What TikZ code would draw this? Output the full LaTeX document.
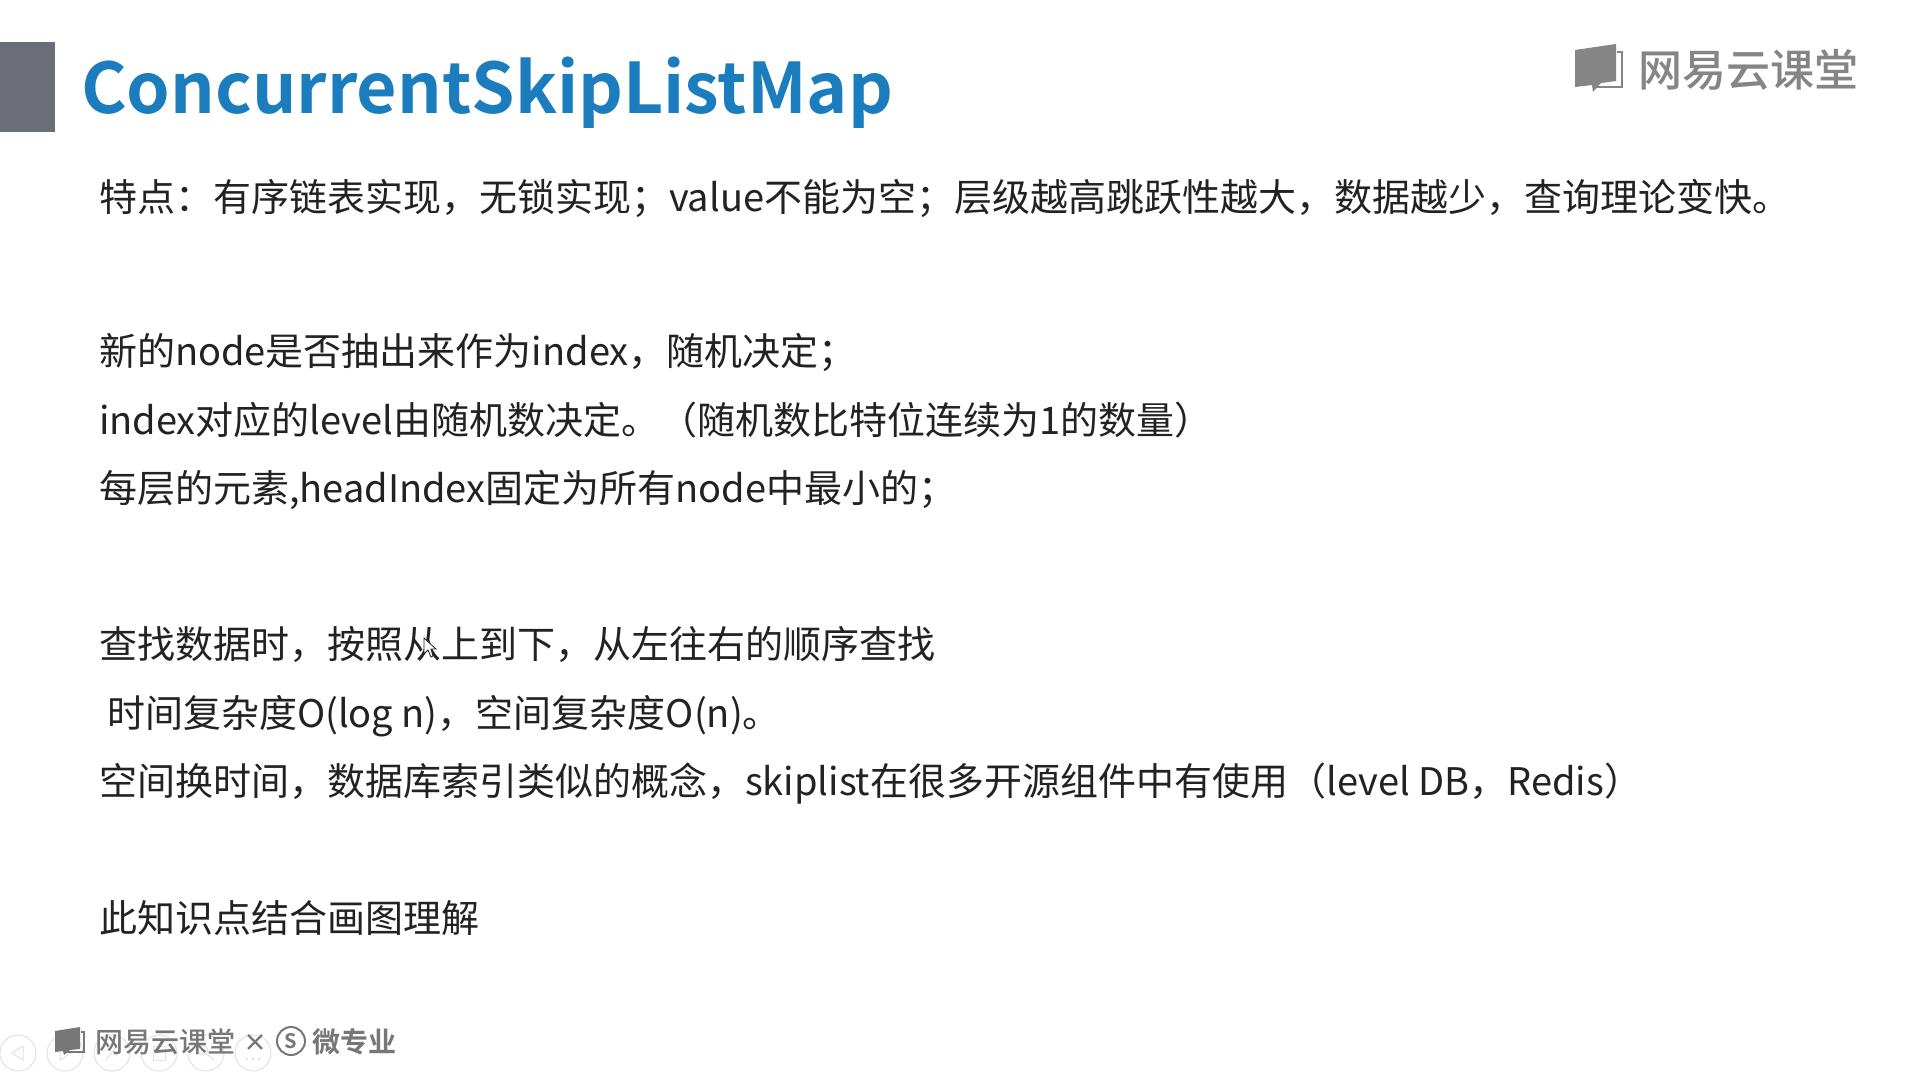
\documentclass[tikz,border=0pt]{standalone}
\usepackage{fontspec}
\setmainfont{Noto Sans CJK SC}
\newfontfamily\cjkmed{Noto Sans CJK SC Medium}
\newfontfamily\cjkbold{Noto Sans CJK SC Bold}
\definecolor{titleblue}{HTML}{1B7DBE}
\definecolor{barGray}{HTML}{6B6E76}
\definecolor{bodytext}{HTML}{222222}
\definecolor{logogray}{HTML}{858585}
\definecolor{footgray}{HTML}{777777}
\definecolor{ctrlgray}{HTML}{E2E2E2}
\tikzset{
  bodyline/.style={anchor=base west,inner sep=0pt,outer sep=0pt,text=bodytext,font=\fontsize{38}{38}\selectfont},
  ctrl/.style={circle,draw=ctrlgray,line width=1pt,minimum size=36pt,inner sep=0pt},
  ctrlmark/.style={draw=ctrlgray,line width=1pt}
}
\begin{document}
\begin{tikzpicture}[x=1pt,y=-1pt]
\useasboundingbox (0,0) rectangle (1908,1073);
\fill[white] (0,0) rectangle (1908,1073);
\fill[barGray] (0,42) rectangle (55,132);
\node[anchor=base west,inner sep=0pt,text=titleblue,font=\cjkbold\fontsize{69.8}{70}\selectfont] (title) at (81,113) {ConcurrentSkipListMap};
\node[bodyline] (l1) at (99,211.5) {特点：有序链表实现，无锁实现；value不能为空；层级越高跳跃性越大，数据越少，查询理论变快。};
\node[bodyline] (l2) at (99,365.8) {新的node是否抽出来作为index，随机决定；};
\node[bodyline] (l3) at (99,434.2) {index对应的level由随机数决定。（随机数比特位连续为1的数量）};
\node[bodyline] (l4) at (99,502.3) {每层的元素,headIndex固定为所有node中最小的；};
\node[bodyline] (l5) at (99,658.1) {查找数据时，按照从上到下，从左往右的顺序查找};
\node[bodyline] (l6) at (107,727.4) {时间复杂度O(log n)，空间复杂度O(n)。};
\node[bodyline] (l7) at (99,795.6) {空间换时间，数据库索引类似的概念，skiplist在很多开源组件中有使用（level DB，Redis）};
\node[bodyline] (l8) at (99,932.5) {此知识点结合画图理解};
% mouse cursor
\fill[white,draw=bodytext,line width=0.8pt] (424,638) -- (424,654) -- (428,650) -- (431,657) -- (433,656) -- (431,649) -- (436,649) -- cycle;
% top-right logo
\fill[logogray] (1575,50) -- (1616,44) -- (1616,81) -- (1601,83) -- (1593,92) -- (1592,85) -- (1575,87) -- cycle;
\draw[logogray,line width=2.2pt] (1617,52) -- (1622,52) -- (1622,87) -- (1593,87);
\node[anchor=base west,inner sep=0pt,text=logogray,font=\cjkmed\fontsize{44}{44}\selectfont] (logo) at (1638,86) {网易云课堂};
% bottom controls
\node[ctrl] (c1) at (18,1053) {};
\node[ctrl] (c2) at (65,1053) {};
\node[ctrl] (c3) at (112,1053) {};
\node[ctrl] (c4) at (159,1053) {};
\node[ctrl] (c5) at (206,1053) {};
\node[ctrl] (c6) at (253,1053) {};
\draw[ctrlmark] (23,1046) -- (12,1053) -- (23,1060) -- cycle;
\draw[ctrlmark] (60,1046) -- (71,1053) -- (60,1060) -- cycle;
\draw[ctrlmark] (106,1060) -- (117,1046);
\draw[ctrlmark] (153,1046) rectangle (165,1060);
\draw[ctrlmark] (203,1050) circle (5pt) (207,1054) -- (214,1060);
\fill[ctrlgray] (247,1059) circle (1.5pt) (253,1059) circle (1.5pt) (259,1059) circle (1.5pt);
% bottom logo
\fill[footgray] (55,1031) -- (80,1027) -- (80,1049) -- (70,1050) -- (64,1055) -- (63,1051) -- (55,1052) -- cycle;
\draw[footgray,line width=1.5pt] (81,1032) -- (84,1032) -- (84,1052) -- (66,1052);
\node[anchor=base west,inner sep=0pt,text=footgray,font=\cjkmed\fontsize{28}{28}\selectfont] (footlogo) at (95,1052) {网易云课堂};
\node[anchor=center,inner sep=0pt,text=footgray,font=\cjkbold\fontsize{24}{24}\selectfont] (times) at (255,1043) {×};
\node[circle,draw=footgray,line width=2pt,minimum size=28pt,inner sep=0pt,text=footgray,font=\cjkbold\fontsize{20}{20}\selectfont] (slogo) at (291,1041) {S};
\node[anchor=base west,inner sep=0pt,text=footgray,font=\cjkbold\fontsize{28}{28}\selectfont] (micro) at (312,1052) {微专业};
\end{tikzpicture}
\end{document}
